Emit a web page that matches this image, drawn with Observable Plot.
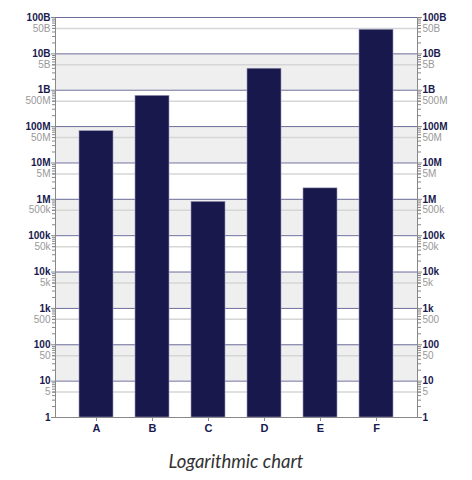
<!DOCTYPE html>
<html>
<head>
<meta charset="utf-8">
<script src="https://cdn.jsdelivr.net/npm/d3@7"></script>
<script src="https://cdn.jsdelivr.net/npm/@observablehq/plot@0.6"></script>
<style>
  body { margin: 0; background: #fff; }
  #chart { width: 472px; }
  #title { width: 472px; text-align: center; font-family: Lato, "DejaVu Sans", sans-serif; font-style: italic; font-size: 18.5px; color: #333; padding-top: 10px; }
</style>
</head>
<body>
<div id="chart"></div>
<div id="title">Logarithmic chart</div>
<script>
const categories = ["A", "B", "C", "D", "E", "F"];
const values = [75e6, 700e6, 850e3, 3.9e9, 2e6, 46e9];

const majorTicks = [1, 10, 100, 1e3, 1e4, 1e5, 1e6, 1e7, 1e8, 1e9, 1e10, 1e11];
const majorLabels = ["1", "10", "100", "1k", "10k", "100k", "1M", "10M", "100M", "1B", "10B", "100B"];
const minorLabelTicks = [5, 50, 500, 5e3, 5e4, 5e5, 5e6, 5e7, 5e8, 5e9, 5e10];
const minorLabels = ["5", "50", "500", "5k", "50k", "500k", "5M", "50M", "500M", "5B", "50B"];
const shadedBands = [[10, 100], [1e3, 1e4], [1e5, 1e6], [1e7, 1e8], [1e9, 1e10]];

const data = categories.map((c, i) => ({cat: c, value: values[i]}));
const minorTicks = [];
for (let d = 0; d < 11; d++) for (let m = 2; m <= 9; m++) minorTicks.push(m * Math.pow(10, d));
const majorFmt = new Map(majorTicks.map((t, i) => [t, majorLabels[i]]));
const minorFmt = new Map(minorLabelTicks.map((t, i) => [t, minorLabels[i]]));

const navy = "#1a1a4e";
const chart = Plot.plot({
  width: 472,
  height: 440,
  marginTop: 17,
  marginBottom: 23,
  marginLeft: 55,
  marginRight: 55,
  style: {fontFamily: "'Liberation Sans', Arial, sans-serif", fontSize: "10px", background: "#fff"},
  x: {domain: categories, padding: 0.4, label: null},
  y: {type: "log", domain: [1, 1e11], label: null},
  marks: [
    Plot.rect(shadedBands, {y1: d => d[0], y2: d => d[1], fill: "#efefef"}),
    Plot.ruleY(minorLabelTicks, {stroke: "#d6d6d6", strokeWidth: 1.5}),
    Plot.ruleY(majorTicks.slice(1), {stroke: "#6e6e9c", strokeWidth: 1}),
    Plot.barY(data, {x: "cat", y1: 1, y2: "value", fill: "#18184c", stroke: "#9a9ab8", strokeWidth: 0.6}),
    Plot.frame({stroke: "#888", strokeWidth: 1}),
    Plot.ruleY([1e11], {stroke: "#6e6e9c"}),
    // left axis
    Plot.axisY(minorTicks, {anchor: "left", tickSize: 3, tickFormat: () => "", stroke: "#888"}),
    Plot.axisY(minorLabelTicks, {anchor: "left", tickSize: 3, tickPadding: 2, tickFormat: d => minorFmt.get(d), fill: "#999", stroke: "#888"}),
    Plot.axisY(majorTicks, {anchor: "left", tickSize: 4, tickPadding: 1, tickFormat: d => majorFmt.get(d), fill: navy, stroke: "#888", fontWeight: "bold"}),
    // right axis
    Plot.axisY(minorTicks, {anchor: "right", tickSize: 3, tickFormat: () => "", stroke: "#888"}),
    Plot.axisY(minorLabelTicks, {anchor: "right", tickSize: 3, tickPadding: 2, tickFormat: d => minorFmt.get(d), fill: "#999", stroke: "#888"}),
    Plot.axisY(majorTicks, {anchor: "right", tickSize: 4, tickPadding: 1, tickFormat: d => majorFmt.get(d), fill: navy, stroke: "#888", fontWeight: "bold"}),
    // x axis
    Plot.axisX({tickSize: 4, tickPadding: 3, fill: navy, stroke: "#888", fontWeight: "bold", fontSize: 11, label: null})
  ]
});
document.getElementById("chart").appendChild(chart);
</script>
</body>
</html>
